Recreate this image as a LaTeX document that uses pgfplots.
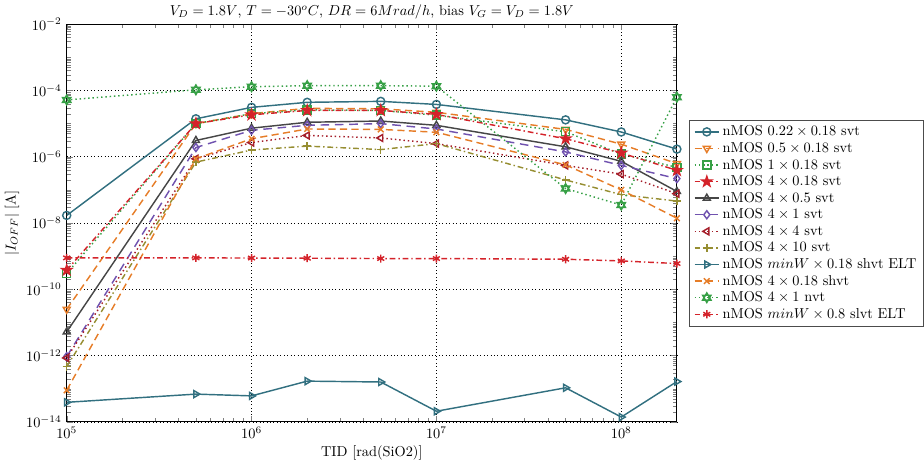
\documentclass[border=0pt]{standalone}
\usepackage{pgfplots}
\pgfplotsset{compat=1.18}
\usetikzlibrary{plotmarks}
\definecolor{cteal}{RGB}{50,112,128}
\definecolor{corange}{RGB}{230,125,40}
\definecolor{cgreen}{RGB}{55,160,70}
\definecolor{cred}{RGB}{212,35,42}
\definecolor{cgray}{RGB}{70,70,70}
\definecolor{cpurple}{RGB}{112,82,175}
\definecolor{cdred}{RGB}{165,30,42}
\definecolor{colive}{RGB}{150,142,50}
\pgfdeclareplotmark{fstar}{%
  \pgfpathmoveto{\pgfqpointpolar{90}{1.3\pgfplotmarksize}}%
  \pgfpathlineto{\pgfqpointpolar{126}{0.5\pgfplotmarksize}}%
  \pgfpathlineto{\pgfqpointpolar{162}{1.3\pgfplotmarksize}}%
  \pgfpathlineto{\pgfqpointpolar{198}{0.5\pgfplotmarksize}}%
  \pgfpathlineto{\pgfqpointpolar{234}{1.3\pgfplotmarksize}}%
  \pgfpathlineto{\pgfqpointpolar{270}{0.5\pgfplotmarksize}}%
  \pgfpathlineto{\pgfqpointpolar{306}{1.3\pgfplotmarksize}}%
  \pgfpathlineto{\pgfqpointpolar{342}{0.5\pgfplotmarksize}}%
  \pgfpathlineto{\pgfqpointpolar{18}{1.3\pgfplotmarksize}}%
  \pgfpathlineto{\pgfqpointpolar{54}{0.5\pgfplotmarksize}}%
  \pgfpathclose\pgfusepathqfillstroke}
\pgfdeclareplotmark{hexagram}{%
  \pgfpathmoveto{\pgfqpointpolar{90}{1.2\pgfplotmarksize}}%
  \pgfpathlineto{\pgfqpointpolar{210}{1.2\pgfplotmarksize}}%
  \pgfpathlineto{\pgfqpointpolar{330}{1.2\pgfplotmarksize}}%
  \pgfpathclose
  \pgfpathmoveto{\pgfqpointpolar{270}{1.2\pgfplotmarksize}}%
  \pgfpathlineto{\pgfqpointpolar{30}{1.2\pgfplotmarksize}}%
  \pgfpathlineto{\pgfqpointpolar{150}{1.2\pgfplotmarksize}}%
  \pgfpathclose\pgfusepathqstroke}
\begin{document}
\begin{tikzpicture}
\begin{axis}[
  scale only axis,
  width=425pt, height=277pt,
  xmode=log, ymode=log,
  xmin=1e5, xmax=2e8, ymin=1e-14, ymax=1e-2,
  ytick={1e-14,1e-12,1e-10,1e-8,1e-6,1e-4,1e-2},
  minor ytick={2e-14,3e-14,4e-14,5e-14,6e-14,7e-14,8e-14,9e-14,1e-13,
   2e-13,3e-13,4e-13,5e-13,6e-13,7e-13,8e-13,9e-13,
   2e-12,3e-12,4e-12,5e-12,6e-12,7e-12,8e-12,9e-12,1e-11,
   2e-11,3e-11,4e-11,5e-11,6e-11,7e-11,8e-11,9e-11,
   2e-10,3e-10,4e-10,5e-10,6e-10,7e-10,8e-10,9e-10,1e-9,
   2e-9,3e-9,4e-9,5e-9,6e-9,7e-9,8e-9,9e-9,
   2e-8,3e-8,4e-8,5e-8,6e-8,7e-8,8e-8,9e-8,1e-7,
   2e-7,3e-7,4e-7,5e-7,6e-7,7e-7,8e-7,9e-7,
   2e-6,3e-6,4e-6,5e-6,6e-6,7e-6,8e-6,9e-6,1e-5,
   2e-5,3e-5,4e-5,5e-5,6e-5,7e-5,8e-5,9e-5,
   2e-4,3e-4,4e-4,5e-4,6e-4,7e-4,8e-4,9e-4,1e-3,
   2e-3,3e-3,4e-3,5e-3,6e-3,7e-3,8e-3,9e-3},
  xtick={1e5,1e6,1e7,1e8},
  grid=major,
  major grid style={black, dotted, line width=0.5pt},
  tick align=inside,
  tick pos=both,
  axis line style={line width=0.8pt},
  title={$V_D = 1.8V$, $T = -30^oC$, $DR = 6Mrad/h$, bias $V_G = V_D = 1.8V$},
  title style={yshift=-6pt},
  xlabel={TID [rad(SiO2)]},
  ylabel={$|I_{OFF}|$ [A]},
  xlabel style={yshift=2pt},
  ylabel style={yshift=-2pt},
  legend style={at={(1.02,0.5)}, anchor=west, draw=black!70, line width=0.6pt, font=\normalsize, row sep=-1pt},
  legend cell align=left,
  every axis plot/.append style={line width=1pt, mark size=2.8pt},
]
\addplot[cteal, solid, mark=o] coordinates {
 (1e5,1.7e-8) (5e5,1.4e-5) (1e6,3.1e-5) (2e6,4.4e-5) (5e6,4.7e-5) (1e7,3.8e-5) (5e7,1.3e-5) (1e8,5.6e-6) (2e8,1.7e-6)};
\addlegendentry{nMOS $0.22\times0.18$ svt}
\addplot[corange, dash pattern=on 5pt off 3pt, mark=triangle, mark options={solid, rotate=180}] coordinates {
 (1e5,2.5e-11) (5e5,1.0e-5) (1e6,2.0e-5) (2e6,2.9e-5) (5e6,2.8e-5) (1e7,2.2e-5) (5e7,6.7e-6) (1e8,2.4e-6) (2e8,6.2e-7)};
\addlegendentry{nMOS $0.5\times0.18$ svt}
\addplot[cgreen, dotted, mark=square, mark options={solid}] coordinates {
 (1e5,3.0e-10) (5e5,1.0e-5) (1e6,2.0e-5) (2e6,2.6e-5) (5e6,2.5e-5) (1e7,1.8e-5) (5e7,5.7e-6) (1e8,1.2e-6) (2e8,4.8e-7)};
\addlegendentry{nMOS $1\times0.18$ svt}
\addplot[cred, dash pattern=on 4pt off 2pt on 1pt off 2pt, mark=fstar, mark options={solid, fill=cred}] coordinates {
 (1e5,3.8e-10) (5e5,1.0e-5) (1e6,1.85e-5) (2e6,2.5e-5) (5e6,2.5e-5) (1e7,1.9e-5) (5e7,3.5e-6) (1e8,1.3e-6) (2e8,3.9e-7)};
\addlegendentry{nMOS $4\times0.18$ svt}
\addplot[cgray, solid, mark=triangle] coordinates {
 (1e5,5.2e-12) (5e5,3.1e-6) (1e6,7.3e-6) (2e6,1.1e-5) (5e6,1.2e-5) (1e7,8.9e-6) (5e7,2.0e-6) (1e8,7.3e-7) (2e8,9e-8)};
\addlegendentry{nMOS $4\times0.5$ svt}
\addplot[cpurple, dash pattern=on 6pt off 4pt, mark=diamond, mark options={solid}] coordinates {
 (1e5,9.3e-13) (5e5,1.9e-6) (1e6,6.3e-6) (2e6,8.9e-6) (5e6,1.0e-5) (1e7,6.9e-6) (5e7,1.4e-6) (1e8,5.5e-7) (2e8,2.2e-7)};
\addlegendentry{nMOS $4\times1$ svt}
\addplot[cdred, dotted, mark=triangle, mark options={solid, rotate=90}] coordinates {
 (1e5,8.5e-13) (5e5,8.7e-7) (1e6,2.7e-6) (2e6,4.4e-6) (5e6,3.7e-6) (1e7,2.5e-6) (5e7,5.5e-7) (1e8,3.0e-7) (2e8,7.7e-8)};
\addlegendentry{nMOS $4\times4$ svt}
\addplot[colive, dash pattern=on 4pt off 2pt on 1pt off 2pt, mark=+, mark options={solid}] coordinates {
 (1e5,4.7e-13) (5e5,6.9e-7) (1e6,1.6e-6) (2e6,2.1e-6) (5e6,1.65e-6) (1e7,2.5e-6) (5e7,2.0e-7) (1e8,7.2e-8) (2e8,4.6e-8)};
\addlegendentry{nMOS $4\times10$ svt}
\addplot[cteal, solid, mark=triangle, mark options={solid, rotate=-90}] coordinates {
 (1e5,3.9e-14) (5e5,6.9e-14) (1e6,6.1e-14) (2e6,1.7e-13) (5e6,1.6e-13) (1e7,2.1e-14) (5e7,1.07e-13) (1e8,1.4e-14) (2e8,1.65e-13)};
\addlegendentry{nMOS $minW\times0.18$ shvt ELT}
\addplot[corange, dash pattern=on 5pt off 3pt, mark=x, mark options={solid}] coordinates {
 (1e5,9e-14) (5e5,8.7e-7) (1e6,3.5e-6) (2e6,6.9e-6) (5e6,6.7e-6) (1e7,5.5e-6) (5e7,5.7e-7) (1e8,1.0e-7) (2e8,1.4e-8)};
\addlegendentry{nMOS $4\times0.18$ shvt}
\addplot[cgreen, dotted, mark=hexagram, mark options={solid}] coordinates {
 (1e5,5.2e-5) (5e5,1.05e-4) (1e6,1.3e-4) (2e6,1.4e-4) (5e6,1.4e-4) (1e7,1.35e-4) (5e7,1.1e-7) (1e8,3.5e-8) (2e8,6.3e-5)};
\addlegendentry{nMOS $4\times1$ nvt}
\addplot[cred, dash pattern=on 4pt off 2pt on 1pt off 2pt, mark=asterisk, mark options={solid}] coordinates {
 (1e5,8.9e-10) (5e5,8.9e-10) (1e6,8.8e-10) (2e6,8.7e-10) (5e6,8.5e-10) (1e7,8.5e-10) (5e7,8.1e-10) (1e8,7.2e-10) (2e8,6.0e-10)};
\addlegendentry{nMOS $minW\times0.8$ slvt ELT}
\end{axis}
\end{tikzpicture}
\end{document}
